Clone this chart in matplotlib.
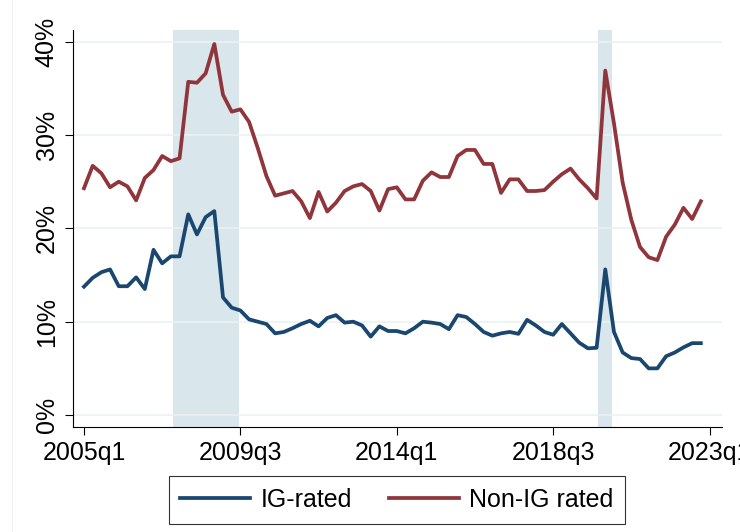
import matplotlib.pyplot as plt
from matplotlib.lines import Line2D

plt.rcParams['font.family'] = ['Liberation Sans', 'DejaVu Sans']

# quarterly shares, 2005q1 .. 2022q4 (percent)
ig_rated = [13.75, 14.7, 15.3, 15.6, 13.8, 13.8, 14.75, 13.5, 17.7, 16.25,
            17.0, 17.0, 21.5, 19.35, 21.2, 21.85, 12.6, 11.5, 11.2, 10.25,
            10.0, 9.75, 8.75, 8.9, 9.3, 9.75, 10.1, 9.5, 10.4, 10.7,
            9.9, 10.0, 9.6, 8.4, 9.5, 9.0, 9.0, 8.75, 9.3, 10.0,
            9.9, 9.75, 9.2, 10.7, 10.5, 9.75, 8.9, 8.5, 8.75, 8.9,
            8.7, 10.2, 9.6, 8.9, 8.6, 9.75, 8.75, 7.75, 7.15, 7.2,
            15.6, 8.9, 6.7, 6.1, 6.0, 5.0, 5.0, 6.3, 6.7, 7.25,
            7.7, 7.7]
non_ig_rated = [24.3, 26.7, 25.9, 24.4, 25.0, 24.5, 23.0, 25.4, 26.25, 27.75,
                27.2, 27.5, 35.7, 35.6, 36.6, 39.75, 34.3, 32.5, 32.75, 31.4,
                28.6, 25.6, 23.5, 23.75, 24.0, 22.9, 21.1, 23.9, 21.8, 22.75,
                24.0, 24.5, 24.75, 24.0, 21.9, 24.2, 24.4, 23.1, 23.1, 25.1,
                26.0, 25.5, 25.5, 27.75, 28.4, 28.4, 26.9, 26.9, 23.8, 25.25,
                25.25, 24.0, 24.0, 24.1, 25.0, 25.8, 26.4, 25.25, 24.3, 23.2,
                36.9, 31.25, 24.9, 20.9, 18.0, 16.9, 16.6, 19.1, 20.4, 22.2,
                21.0, 22.9]
quarters = list(range(len(ig_rated)))

# recession shading, in quarters since 2005q1
recessions = [(10.3, 17.85), (59.2, 60.8)]

xtick_pos = [0, 18, 36, 54, 72]
xtick_labels = ['2005q1', '2009q3', '2014q1', '2018q3', '2023q1']
ytick_pos = [0, 10, 20, 30, 40]
ytick_labels = ['0%', '10%', '20%', '30%', '40%']

blue = '#1a476f'
red = '#90353b'

fig = plt.figure(figsize=(7.4, 5.32), dpi=100)
# faint outer region border on the left
fig.add_artist(Line2D([12 / 740, 12 / 740], [0, 1], color='#eef1f3', lw=0.8))

ax = fig.add_axes([72.7 / 740, 1 - 426.7 / 532, 649 / 740, 396.7 / 532])

for start, end in recessions:
    ax.axvspan(start, end, color='#d9e6ec', lw=0, zorder=0)

ax.plot(quarters, ig_rated, color=blue, lw=2.7, label='IG-rated', zorder=3)
ax.plot(quarters, non_ig_rated, color=red, lw=2.7, label='Non-IG rated', zorder=3)

ax.set_xlim(-1.3, 73.4)
ax.set_ylim(-1.25, 41.25)
ax.set_xticks(xtick_pos)
ax.set_xticklabels(xtick_labels, fontsize=18)
ax.set_yticks(ytick_pos)
ax.set_yticklabels(ytick_labels, fontsize=18, rotation=90, va='center')
ax.yaxis.grid(True, color='#eaf2f3', lw=1.2)
ax.set_axisbelow(True)
ax.tick_params(direction='out', length=6, width=0.8, colors='black')
ax.tick_params(axis='x', pad=4)
ax.tick_params(axis='y', pad=4)
for side in ['top', 'right']:
    ax.spines[side].set_visible(False)
for side in ['left', 'bottom']:
    ax.spines[side].set_linewidth(0.8)

leg = fig.legend(loc='upper center', bbox_to_anchor=(397 / 740, 1 - 476 / 532),
                 ncol=2, fontsize=18, frameon=True, fancybox=False,
                 edgecolor='black', handlelength=2.8, columnspacing=1.5,
                 borderpad=0.47, handletextpad=0.4, borderaxespad=0)
leg.get_frame().set_linewidth(0.8)

fig.savefig('out.png', dpi=100)
